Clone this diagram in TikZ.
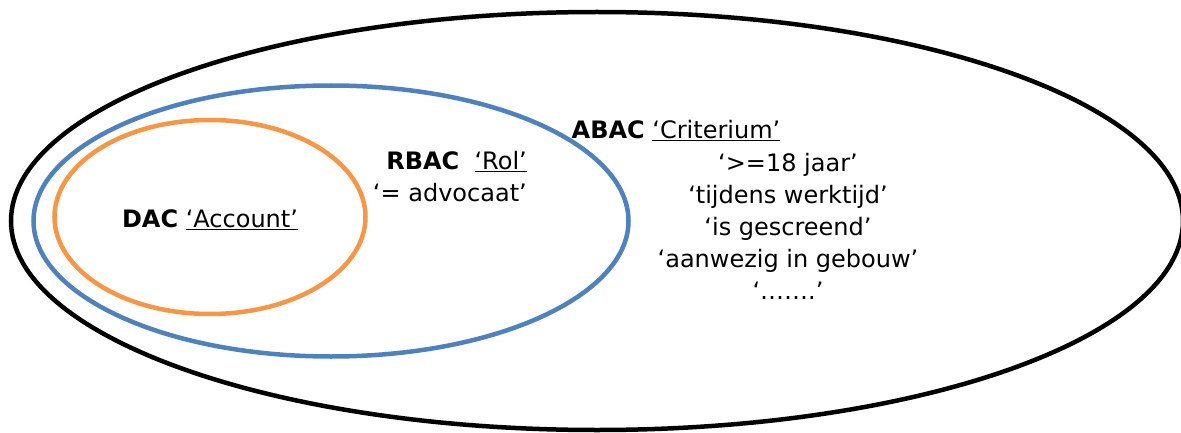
\documentclass[tikz,border=0pt]{standalone}
\usepackage{fontspec}
\setmainfont{DejaVu Sans}
\usetikzlibrary{shapes.geometric}
\definecolor{setblue}{HTML}{4F81BD}
\definecolor{setorange}{HTML}{F79646}

\begin{document}
\begin{tikzpicture}[x=1pt,y=1pt,
  set node/.style={ellipse,draw,line width=4.5pt,inner sep=0pt},
  label node/.style={inner sep=0pt,font=\fontsize{24}{32}\selectfont}]
  \useasboundingbox (0,0) rectangle (1181,432);

  \node[set node, minimum width=1172, minimum height=418] (abac) at (597,211) {};
  \node[set node, draw=setblue, minimum width=595, minimum height=271] (rbac) at (331,211) {};
  \node[set node, draw=setorange, minimum width=311, minimum height=194] (dac) at (210,215) {};

  \node[label node] (dac text) at (210,212) {\textbf{DAC} \underline{‘Account’}};
  \node[label node, align=right, anchor=east] (rbac text) at (527,255)
    {\textbf{RBAC}\ \ \underline{‘Rol’}\\‘= advocaat’};
  \node[label node] (abac text) at (676,301) {\textbf{ABAC} \underline{‘Criterium’}};
  \node[label node, align=center] (criteria) at (788,206)
    {‘>=18 jaar’\\‘tijdens werktijd’\\‘is gescreend’\\‘aanwezig in gebouw’\\‘…….’};
\end{tikzpicture}
\end{document}
